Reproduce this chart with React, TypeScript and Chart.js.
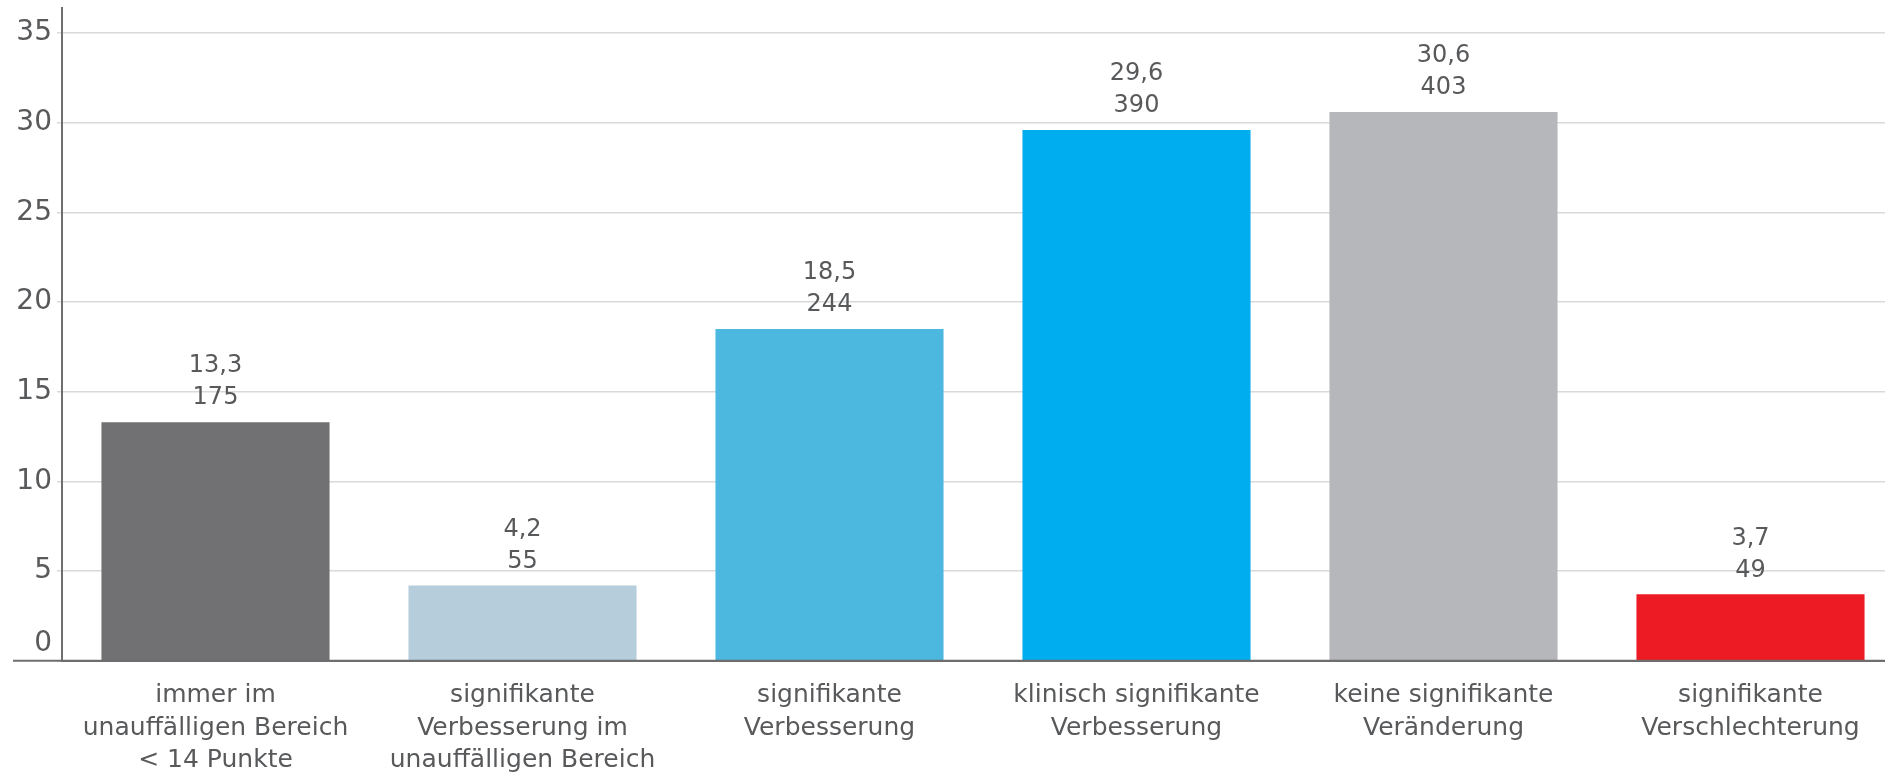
import { useEffect, useRef } from "react";
import { Chart, registerables } from "chart.js";

Chart.register(...registerables);

const categories: string[][] = [
  ["immer im", "unauffälligen Bereich", "< 14 Punkte"],
  ["signifikante", "Verbesserung im", "unauffälligen Bereich"],
  ["signifikante", "Verbesserung"],
  ["klinisch signifikante", "Verbesserung"],
  ["keine signifikante", "Veränderung"],
  ["signifikante", "Verschlechterung"],
];
const percentages = [13.3, 4.2, 18.5, 29.6, 30.6, 3.7];
const counts = [175, 55, 244, 390, 403, 49];
const barColors = ["#717073", "#b6cedb", "#4cb8e0", "#00aeef", "#b6b7ba", "#ed1c24"];

const TEXT = "#58595b";
const FONT = "'DejaVu Sans', sans-serif";

const valueLabels = {
  id: "valueLabels",
  afterDatasetsDraw(chart: any) {
    const ctx = chart.ctx;
    const meta = chart.getDatasetMeta(0);
    ctx.save();
    ctx.fillStyle = TEXT;
    ctx.font = `24px ${FONT}`;
    ctx.textAlign = "center";
    ctx.textBaseline = "middle";
    meta.data.forEach((bar: any, i: number) => {
      const pct = percentages[i].toFixed(1).replace(".", ",");
      ctx.fillText(String(counts[i]), bar.x, bar.y - 24);
      ctx.fillText(pct, bar.x, bar.y - 56);
    });
    ctx.restore();
  },
};

const baseline = {
  id: "baseline",
  afterDraw(chart: any) {
    const ctx = chart.ctx;
    const y = chart.scales.y.getPixelForValue(0);
    ctx.save();
    ctx.strokeStyle = "#6e6e6e";
    ctx.lineWidth = 2;
    ctx.beginPath();
    ctx.moveTo(chart.chartArea.left - 49, y);
    ctx.lineTo(chart.width, y);
    ctx.stroke();
    ctx.restore();
  },
};

export default function App() {
  const ref = useRef<HTMLCanvasElement | null>(null);
  useEffect(() => {
    if (!ref.current) return;
    const chart = new Chart(ref.current, {
      type: "bar",
      data: {
        labels: categories,
        datasets: [
          {
            data: percentages,
            backgroundColor: barColors,
            borderWidth: 0,
            categoryPercentage: 1,
            barPercentage: 0.743,
          },
        ],
      },
      options: {
        responsive: false,
        animation: false,
        layout: { padding: { top: 8, left: 0, right: 0, bottom: 0 } },
        plugins: { legend: { display: false }, tooltip: { enabled: false } },
        scales: {
          x: {
            grid: { display: false, drawTicks: false },
            border: { display: true, color: "#6e6e6e", width: 2 },
            ticks: {
              color: TEXT,
              font: { family: FONT, size: 25, lineHeight: 1.3 },
              padding: 19,
              maxRotation: 0,
              autoSkip: false,
            },
            afterFit: (s: any) => {
              s.height = 112.3;
              s.paddingLeft = 0;
              s.paddingRight = 0;
            },
          },
          y: {
            min: 0,
            max: 36.4,
            grid: { color: "#d9d9d9", lineWidth: 1.5, tickLength: 5, drawTicks: true },
            border: { display: true, color: "#6e6e6e", width: 2 },
            ticks: {
              stepSize: 5,
              includeBounds: false,
              color: TEXT,
              font: { family: FONT, size: 28 },
              padding: 5,
              callback: (v: any) => (v === 0 ? ["0", ""] : String(v)),
            },
            afterFit: (s: any) => {
              s.width = 62;
              s.paddingTop = 0;
              s.paddingBottom = 0;
            },
          },
        },
      },
      plugins: [valueLabels, baseline],
    });
    return () => chart.destroy();
  }, []);
  return (
    <div
      style={{
        position: "fixed",
        left: 0,
        top: 0,
        width: 1885,
        height: 773,
        overflow: "hidden",
        background: "#ffffff",
      }}
    >
      <canvas ref={ref} width={1904} height={773} style={{ width: 1904, height: 773, display: "block" }} />
    </div>
  );
}
